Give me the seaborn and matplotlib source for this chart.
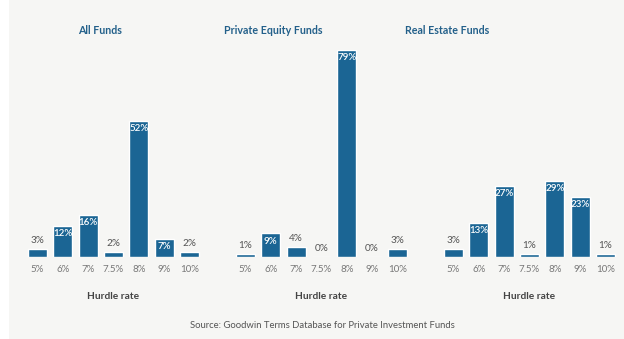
import matplotlib
matplotlib.use("Agg")
import matplotlib.pyplot as plt
import seaborn as sns
import pandas as pd

rates = ["5%", "6%", "7%", "7.5%", "8%", "9%", "10%"]
all_funds = [3, 12, 16, 2, 52, 7, 2]
pe_funds = [1, 9, 4, 0, 79, 0, 3]
re_funds = [3, 13, 27, 1, 29, 23, 1]
titles = ["All Funds", "Private Equity Funds", "Real Estate Funds"]
xlabel = "Hurdle rate"
source = "Source: Goodwin Terms Database for Private Investment Funds"

sns.set_theme(style="white")
plt.rcParams['font.family'] = ['Lato', 'DejaVu Sans']

W, H = 624, 339
BG = "#f6f6f4"
BAR = "#1b6594"
TITLE = "#23608a"
GREY = "#777777"

fig = plt.figure(figsize=(W / 100, H / 100), dpi=100)
fig.patch.set_facecolor("white")
fig.add_artist(plt.Rectangle((9 / W, 0), 1 - 9 / W, 1, transform=fig.transFigure,
                             facecolor=BG, edgecolor="none", zorder=0))

lefts = [24.8, 232.8, 440.8]
title_x = [100, 273.5, 447.5]
series = [all_funds, pe_funds, re_funds]
spacing = 25.33
ax_w = spacing * 7
base_y = 257
top_y = 50

for i, vals in enumerate(series):
    ax = fig.add_axes([lefts[i] / W, 1 - base_y / H, ax_w / W, (base_y - top_y) / H])
    ax.set_facecolor("none")
    df = pd.DataFrame({"rate": rates, "pct": vals})
    sns.barplot(data=df, x="rate", y="pct", color=BAR, saturation=1, width=0.75,
                ax=ax, order=rates)
    ax.set_xlim(-0.5, 6.5)
    ax.set_ylim(0, 79)
    for s in ax.spines.values():
        s.set_visible(False)
    ax.set_yticks([])
    ax.set_ylabel("")
    ax.set_xlabel(xlabel, fontsize=7.3, fontweight="bold", color="#444444", labelpad=13)
    ax.tick_params(axis="x", length=0, labelsize=7, labelcolor=GREY, pad=6)
    for j, v in enumerate(vals):
        if v >= 7:
            ax.text(j, v - 1.2, f"{v}%", ha="center", va="top", color="white",
                    fontsize=7, fontweight="semibold")
        else:
            ax.text(j, v + 1.5, f"{v}%", ha="center", va="bottom", color="#555555",
                    fontsize=7.2)
    fig.text(title_x[i] / W, 1 - 31 / H, titles[i], ha="center", va="center",
             fontsize=7.7, fontweight="bold", color=TITLE)

fig.text(322 / W, 1 - 326 / H, source, ha="center", va="center", fontsize=6.8,
         color="#555555")

fig.savefig("out.png", dpi=100, facecolor=fig.get_facecolor())
